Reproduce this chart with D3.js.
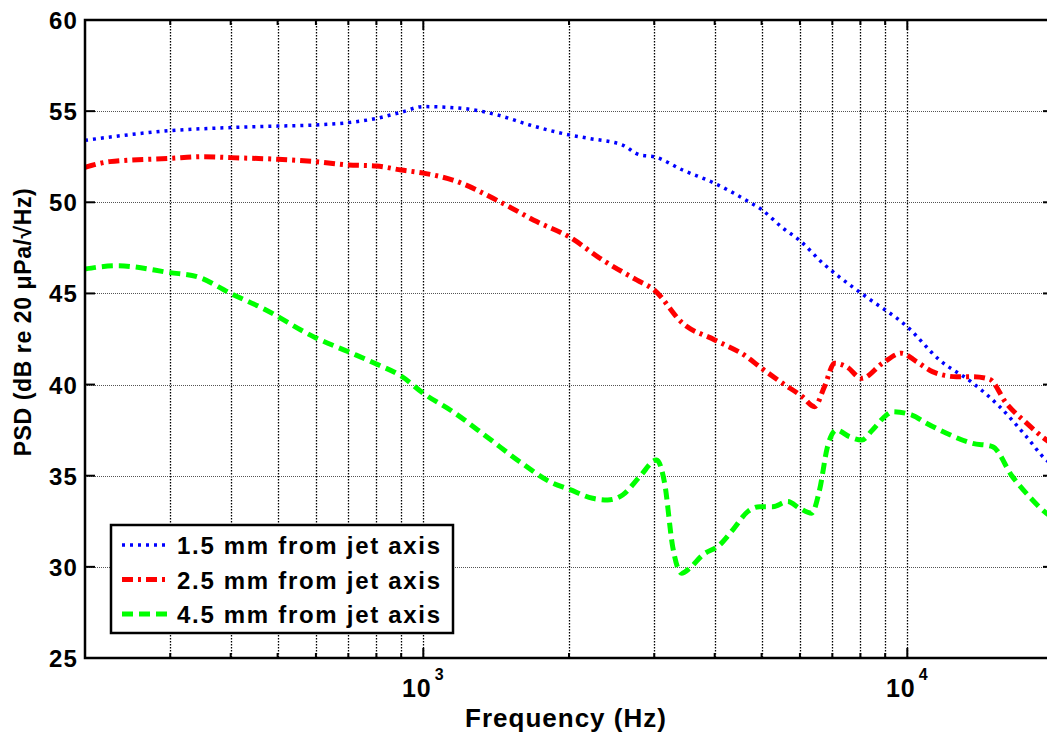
<!DOCTYPE html>
<html>
<head>
<meta charset="utf-8">
<script src="https://cdn.jsdelivr.net/npm/d3@7"></script>
<style>
  body { margin: 0; background: #fff; }
  text { font-family: "Liberation Sans", Arial, sans-serif; font-weight: bold; fill: #000; }
</style>
</head>
<body>
<div id="viz"></div>
<script>
// series data (Hz, dB)
var blueFreq = [200, 300, 400, 500, 600, 700, 800, 900, 1000, 1206, 1418, 1659, 2000, 2206, 2581, 2800, 3000, 3434, 4000, 4656, 5000, 5525, 6000, 6682, 7200, 8237, 10000, 11656, 13633, 15500, 17620, 19380, 20000];
var bluePsd = [53.4, 53.93, 54.1, 54.18, 54.24, 54.37, 54.6, 54.94, 55.25, 55.15, 54.8, 54.24, 53.7, 53.5, 53.14, 52.6, 52.5, 51.77, 51.04, 50.1, 49.6, 48.6, 47.9, 46.67, 45.95, 44.8, 43.17, 41.35, 40.1, 38.8, 37.15, 35.86, 35.6];

var redFreq = [200, 225, 300, 351, 400, 500, 600, 700, 800, 900, 1000, 1151, 1460, 1715, 2000, 2348, 2759, 3000, 3434, 4000, 4656, 4952, 5525, 6074, 6432, 6746, 7071, 7490, 8050, 8888, 9728, 10448, 11270, 12640, 13633, 14780, 16020, 17620, 19380, 20000];
var redPsd = [51.92, 52.23, 52.41, 52.5, 52.45, 52.36, 52.23, 52.05, 51.99, 51.77, 51.6, 51.22, 49.94, 48.94, 48.11, 46.83, 45.74, 45.19, 43.36, 42.45, 41.53, 40.98, 40.07, 39.33, 38.79, 39.9, 41.17, 40.98, 40.34, 41.17, 41.72, 41.26, 40.71, 40.43, 40.43, 40.3, 38.97, 37.9, 36.96, 36.7];

var greenFreq = [200, 233, 300, 341, 400, 466, 600, 700, 800, 900, 1000, 1151, 1352, 1582, 1851, 2000, 2238, 2404, 2581, 2800, 3034, 3152, 3275, 3418, 3550, 3776, 4094, 4356, 4680, 4952, 5268, 5657, 6000, 6340, 6588, 6842, 7140, 7596, 8050, 8474, 9060, 9320, 10220, 10954, 12050, 13633, 14990, 16490, 17880, 19380, 20000];
var greenPsd = [46.34, 46.52, 46.14, 45.92, 45.0, 44.18, 42.56, 41.8, 41.13, 40.47, 39.52, 38.51, 37.14, 35.77, 34.59, 34.26, 33.76, 33.67, 33.94, 34.95, 35.86, 34.59, 31.11, 29.65, 29.92, 30.65, 31.2, 32.02, 33.03, 33.3, 33.3, 33.58, 33.21, 32.94, 34.22, 36.6, 37.51, 37.14, 36.96, 37.51, 38.33, 38.51, 38.33, 37.88, 37.33, 36.78, 36.6, 34.95, 33.85, 32.94, 32.7];

var seriesNames = ['1.5 mm from jet axis', '2.5 mm from jet axis', '4.5 mm from jet axis'];
var yTicks = [25, 30, 35, 40, 45, 50, 55, 60];
var xMajor = [1000, 10000];
var xMajorExp = ['3', '4'];
var xMinor = [300, 400, 500, 600, 700, 800, 900, 2000, 3000, 4000, 5000, 6000, 7000, 8000, 9000];

var W = 1047, H = 734;
var L = 85, T = 20, R = 1053, B = 658;

var svg = d3.select('#viz').append('svg')
  .attr('width', W).attr('height', H);

var x = d3.scaleLog().domain([200, 20000]).range([L, R]);
var y = d3.scaleLinear().domain([25, 60]).range([B, T]);

svg.append('defs').append('clipPath').attr('id', 'plotclip')
  .append('rect').attr('x', L).attr('y', T).attr('width', R - L).attr('height', B - T);

// grid
var grid = svg.append('g');
grid.selectAll('.vg').data(xMinor.concat(xMajor)).enter().append('line')
  .attr('x1', function(d) { return Math.round(x(d)) + 0.5; })
  .attr('x2', function(d) { return Math.round(x(d)) + 0.5; })
  .attr('y1', T).attr('y2', B)
  .style('stroke', '#000').style('stroke-width', 1.3).style('stroke-dasharray', '1.5,1.5');
grid.selectAll('.hg').data(yTicks.slice(1, -1)).enter().append('line')
  .attr('x1', L).attr('x2', R)
  .attr('y1', function(d) { return Math.round(y(d)) + 0.5; })
  .attr('y2', function(d) { return Math.round(y(d)) + 0.5; })
  .style('stroke', '#555').style('stroke-width', 1).style('stroke-dasharray', '1,1');

// curves
var line = d3.line()
  .x(function(d) { return x(d[0]); })
  .y(function(d) { return y(d[1]); })
  .curve(d3.curveMonotoneX);

var series = [
  { f: blueFreq, v: bluePsd, color: '#0000ff', width: 3.5, dash: '3,5' },
  { f: redFreq, v: redPsd, color: '#ff0000', width: 5, dash: '11,5,3,5' },
  { f: greenFreq, v: greenPsd, color: '#00ff00', width: 5, dash: '11,6' }
];

var plot = svg.append('g').attr('clip-path', 'url(#plotclip)');
series.forEach(function(s) {
  plot.append('path')
    .datum(d3.zip(s.f, s.v))
    .attr('d', line)
    .style('fill', 'none')
    .style('stroke', s.color)
    .style('stroke-width', s.width)
    .style('stroke-dasharray', s.dash);
});

// frame and ticks
var axes = svg.append('g');
axes.append('rect').attr('x', L).attr('y', T).attr('width', R - L).attr('height', B - T)
  .style('fill', 'none').style('stroke', '#000').style('stroke-width', 2.5);

yTicks.forEach(function(d) {
  axes.append('line').attr('x1', L).attr('x2', L + 10).attr('y1', y(d)).attr('y2', y(d))
    .style('stroke', '#000').style('stroke-width', 2);
  axes.append('line').attr('x1', R).attr('x2', R - 10).attr('y1', y(d)).attr('y2', y(d))
    .style('stroke', '#000').style('stroke-width', 2);
});
xMinor.forEach(function(d) {
  axes.append('line').attr('x1', x(d)).attr('x2', x(d)).attr('y1', B).attr('y2', B - 5)
    .style('stroke', '#000').style('stroke-width', 2);
  axes.append('line').attr('x1', x(d)).attr('x2', x(d)).attr('y1', T).attr('y2', T + 5)
    .style('stroke', '#000').style('stroke-width', 2);
});
xMajor.forEach(function(d) {
  axes.append('line').attr('x1', x(d)).attr('x2', x(d)).attr('y1', B).attr('y2', B - 10)
    .style('stroke', '#000').style('stroke-width', 2);
  axes.append('line').attr('x1', x(d)).attr('x2', x(d)).attr('y1', T).attr('y2', T + 10)
    .style('stroke', '#000').style('stroke-width', 2);
});

// tick labels
svg.selectAll('.ylab').data(yTicks).enter().append('text')
  .attr('x', 78).attr('y', function(d) { return y(d) + 9; })
  .attr('text-anchor', 'end')
  .style('font-size', '24px').style('letter-spacing', '1.2px')
  .text(function(d) { return d; });

xMajor.forEach(function(d, i) {
  var t = svg.append('text')
    .attr('x', x(d)).attr('y', 697)
    .attr('text-anchor', 'middle')
    .style('font-size', '25px').style('letter-spacing', '1px');
  t.append('tspan').text('10');
  t.append('tspan').attr('dy', -17).attr('dx', 3).style('font-size', '16px').text(xMajorExp[i]);
});

svg.append('text')
  .attr('x', (L + R) / 2 - 3).attr('y', 727)
  .attr('text-anchor', 'middle')
  .style('font-size', '26px').style('letter-spacing', '1px')
  .text('Frequency (Hz)');

svg.append('text')
  .attr('transform', 'translate(31,' + 322 + ') rotate(-90)')
  .attr('text-anchor', 'middle')
  .style('font-size', '23px').style('letter-spacing', '0.6px')
  .text('PSD (dB re 20 \u03bcPa/\u221aHz)');

// legend
var leg = svg.append('g');
leg.append('rect').attr('x', 111).attr('y', 525).attr('width', 342).attr('height', 108)
  .style('fill', '#fff').style('stroke', '#000').style('stroke-width', 2.5);
series.forEach(function(s, i) {
  var yy = 545 + i * 34.5;
  leg.append('line').attr('x1', 122).attr('x2', 170).attr('y1', yy).attr('y2', yy)
    .style('stroke', s.color).style('stroke-width', s.width).style('stroke-dasharray', s.dash);
  leg.append('text').attr('x', 177).attr('y', yy + 9)
    .style('font-size', '24px').style('letter-spacing', '1.7px')
    .text(seriesNames[i]);
});
</script>
</body>
</html>
